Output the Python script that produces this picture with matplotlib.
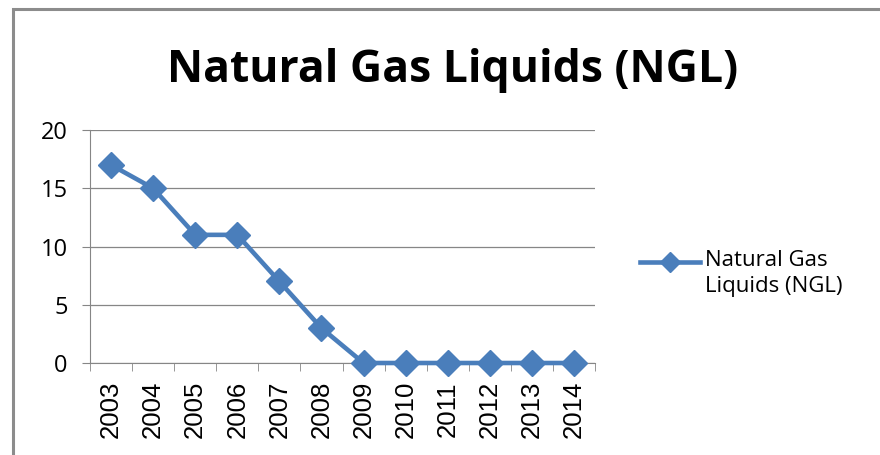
import matplotlib.pyplot as plt
from matplotlib.patches import Rectangle
from matplotlib.lines import Line2D

years = ['2003', '2004', '2005', '2006', '2007', '2008',
         '2009', '2010', '2011', '2012', '2013', '2014']
ngl = [17, 15, 11, 11, 7, 3, 0, 0, 0, 0, 0, 0]
yticks = [0, 5, 10, 15, 20]
series_name = 'Natural Gas\nLiquids (NGL)'

blue = '#4A7EBB'
grey = '#868686'
plt.rcParams['font.family'] = ['Open Sans', 'DejaVu Sans']

fig = plt.figure(figsize=(8.8, 4.55), dpi=100)
W, H = 880, 455

# outer chart border
fig.patches.append(Rectangle((13 / W, -0.1), 1.0, (H - 9) / H + 0.1,
                             transform=fig.transFigure, fill=False,
                             edgecolor='#8c8c8c', linewidth=2.2))

ax = fig.add_axes([90 / W, 1 - 363 / H, 505 / W, 233 / H])
x = list(range(len(years)))
ax.plot(x, ngl, color=blue, linewidth=3.3, marker='D', markersize=13.5,
        clip_on=False, zorder=3)

ax.set_xlim(-0.5, len(years) - 0.5)
ax.set_ylim(0, 20)
ax.set_yticks(yticks)
ax.set_yticklabels([str(v) for v in yticks], fontsize=17)
ax.grid(axis='y', color=grey, linewidth=0.9)
ax.set_axisbelow(True)

ax.set_xticks(x)
ax.set_xticklabels(years, rotation=90, fontsize=18.5,
                   family=['Liberation Sans', 'DejaVu Sans'])
ax.tick_params(axis='x', length=0, pad=13)
ax.set_xticks([i - 0.5 for i in range(len(years) + 1)], minor=True)
ax.tick_params(axis='x', which='minor', length=6, color=grey)
ax.tick_params(axis='y', length=6, color=grey, pad=10)

for s in ['top', 'right']:
    ax.spines[s].set_visible(False)
for s in ['left', 'bottom']:
    ax.spines[s].set_color(grey)

fig.text(453 / W, 1 - 82 / H, 'Natural Gas Liquids (NGL)', ha='center',
         va='baseline', fontsize=32, fontweight='bold')

# legend, handle aligned with the first text line
ly = 1 - 262 / H
fig.add_artist(Line2D([640 / W, 670 / W, 700 / W], [ly, ly, ly],
                      color=blue, linewidth=3.3, marker='D', markersize=10,
                      markevery=[1], transform=fig.transFigure))
fig.text(705 / W, 1 - 250 / H, series_name, ha='left', va='top',
         fontsize=16, linespacing=1.3)

fig.savefig('out.png', dpi=100)
